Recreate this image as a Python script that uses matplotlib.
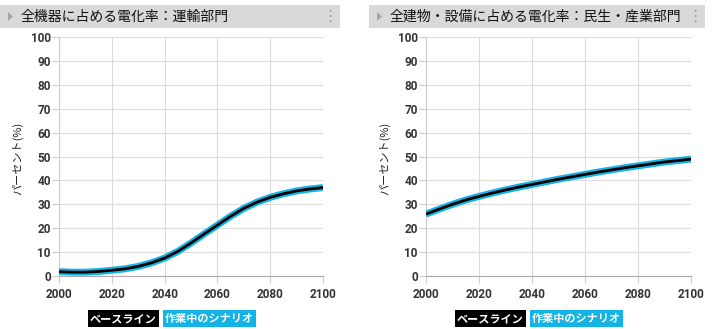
import matplotlib.pyplot as plt
from matplotlib.patches import Rectangle, Polygon

plt.rcParams['font.family'] = ['Noto Sans CJK JP', 'DejaVu Sans']

years = [2000, 2005, 2010, 2015, 2020, 2025, 2030, 2035, 2040, 2045, 2050,
         2055, 2060, 2065, 2070, 2075, 2080, 2085, 2090, 2095, 2100]

# transport sector
transport_base = [1.8, 1.6, 1.6, 1.9, 2.4, 3.0, 4.0, 5.5, 7.5, 10.3, 13.8,
                  17.6, 21.3, 25.0, 28.3, 30.9, 32.9, 34.4, 35.6, 36.4, 37.0]
transport_scen = [1.8, 1.6, 1.6, 1.9, 2.4, 3.0, 4.0, 5.5, 7.5, 10.3, 13.8,
                  17.6, 21.3, 25.0, 28.3, 30.9, 32.9, 34.4, 35.6, 36.4, 37.0]

# buildings / industry sector
building_base = [25.9, 28.0, 30.0, 31.8, 33.3, 34.7, 36.0, 37.2, 38.3, 39.4, 40.5,
                 41.5, 42.5, 43.5, 44.4, 45.3, 46.1, 46.9, 47.7, 48.3, 48.9]
building_scen = [25.9, 28.0, 30.0, 31.8, 33.3, 34.7, 36.0, 37.2, 38.3, 39.4, 40.5,
                 41.5, 42.5, 43.5, 44.4, 45.3, 46.1, 46.9, 47.7, 48.3, 48.9]

titles = ['全機器に占める電化率：運輸部門', '全建物・設備に占める電化率：民生・産業部門']
legend_labels = ['ベースライン', '作業中のシナリオ']
xticks = [2000, 2020, 2040, 2060, 2080, 2100]
yticks = list(range(0, 101, 10))

W, H = 715, 329
CYAN = '#13b3e6'

fig = plt.figure(figsize=(W / 100, H / 100), dpi=100)


def px(x0, y0, x1, y1):
    # pixel box (top-left origin) -> figure fraction rect
    return [x0 / W, 1 - y1 / H, (x1 - x0) / W, (y1 - y0) / H]


panels = [
    dict(bar=(0, 340), axes=(59, 323), legend_x=90, title=titles[0],
         base=transport_base, scen=transport_scen),
    dict(bar=(369, 705), axes=(426, 691), legend_x=457, title=titles[1],
         base=building_base, scen=building_scen),
]

for p in panels:
    bx0, bx1 = p['bar']
    # header bar
    fig.patches.append(Rectangle((bx0 / W, 1 - 28 / H), (bx1 - bx0) / W, 23 / H,
                                 transform=fig.transFigure, color='#d9d9d9', lw=0))
    tx = (bx0 + 8) / W
    fig.patches.append(Polygon([[tx, 1 - 12 / H], [tx, 1 - 21 / H],
                                [tx + 5 / W, 1 - 16.5 / H]],
                               closed=True, transform=fig.transFigure,
                               color='#a6a6a6', lw=0))
    fig.text((bx0 + 21) / W, 1 - 16.5 / H, p['title'], fontsize=10,
             va='center', ha='left', color='#111111')
    fig.text((bx1 - 10) / W, 1 - 16.5 / H, '⋮', fontsize=11,
             va='center', ha='center', color='#999999',
             family=['DejaVu Sans'])

    ax0, ax1 = p['axes']
    ax = fig.add_axes(px(ax0, 37, ax1, 276))
    ax.plot(years, p['scen'], color=CYAN, lw=5.0, solid_capstyle='butt', zorder=3)
    ax.plot(years, p['base'], color='black', lw=2.0, solid_capstyle='butt', zorder=4)
    ax.set_xlim(2000, 2100)
    ax.set_ylim(0, 100)
    ax.set_xticks(xticks)
    ax.set_yticks(yticks)
    ax.grid(True, color='#dcdcdc', lw=0.8)
    ax.set_axisbelow(True)
    for s in ['top', 'right']:
        ax.spines[s].set_visible(False)
    ax.spines['left'].set_color('#cccccc')
    ax.spines['bottom'].set_color('#aaaaaa')
    ax.tick_params(axis='both', colors='#cccccc', length=5, width=0.8,
                   labelcolor='#333333', labelsize=8.5)
    ax.tick_params(axis='x', pad=4)
    ax.tick_params(axis='y', pad=1)
    for lab in ax.get_xticklabels() + ax.get_yticklabels():
        lab.set_family(['Roboto', 'DejaVu Sans'])
        lab.set_fontweight('bold')

    fig.text((ax0 - 41) / W, 1 - 158 / H, 'パーセント(%)', rotation=90,
             fontsize=8, va='center', ha='center', color='#222222')

    # legend boxes
    lx = p['legend_x']
    fig.text(lx / W, 1 - 318.5 / H, legend_labels[0], fontsize=8,
             fontweight='bold', color='white', va='center', ha='left',
             bbox=dict(boxstyle='square,pad=0.2', fc='black', ec='none'))
    fig.text((lx + 75) / W, 1 - 318.5 / H, legend_labels[1], fontsize=8,
             fontweight='bold', color='white', va='center', ha='left',
             bbox=dict(boxstyle='square,pad=0.2', fc=CYAN, ec='none'))

fig.savefig('out.png', dpi=100)
